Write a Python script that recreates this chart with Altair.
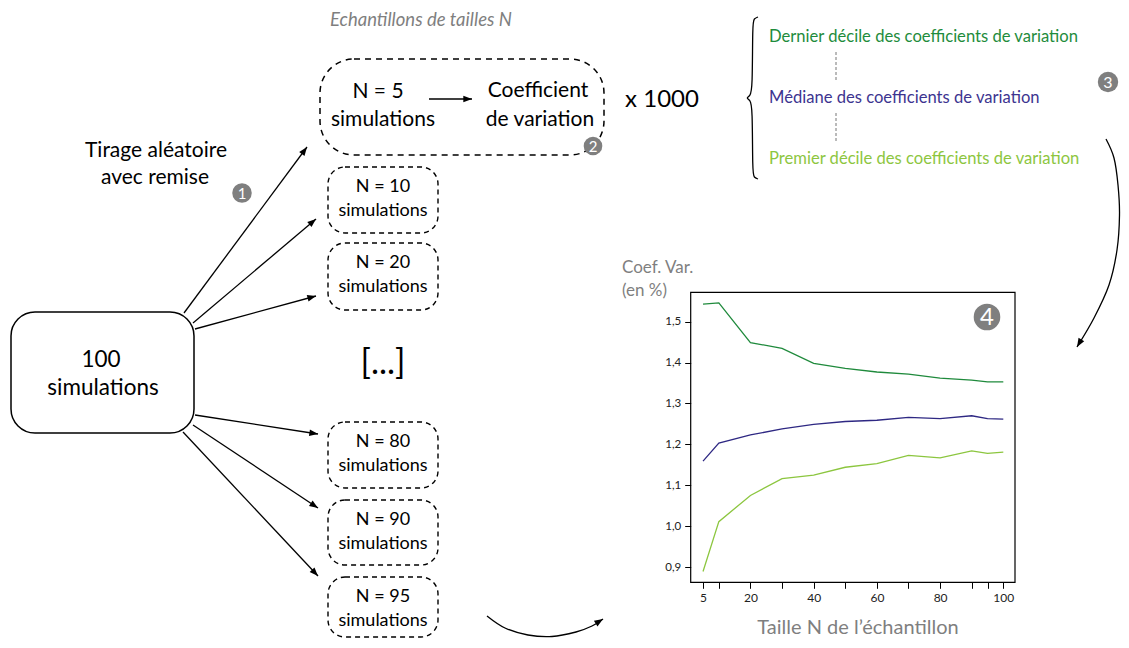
import math
import altair as alt
import pandas as pd

# ---------------- données du graphique ----------------
taille_n = [5, 10, 20, 30, 40, 50, 60, 70, 80, 90, 95, 100]
dernier_decile = [1.543, 1.546, 1.449, 1.435, 1.398, 1.386, 1.377, 1.372, 1.362, 1.357, 1.353, 1.353]
mediane = [1.159, 1.203, 1.223, 1.238, 1.249, 1.256, 1.259, 1.266, 1.263, 1.270, 1.263, 1.262]
premier_decile = [0.889, 1.011, 1.075, 1.116, 1.125, 1.144, 1.153, 1.173, 1.167, 1.184, 1.178, 1.181]
serie_noms = ["Dernier décile", "Médiane", "Premier décile"]
serie_couleurs = ["#1f8a3c", "#2e2883", "#8cc63f"]

x_ticks = [5, 10, 20, 30, 40, 50, 60, 70, 80, 90, 95, 100]
x_labels = [5, 20, 40, 60, 80, 100]
y_ticks = [0.9, 1.0, 1.1, 1.2, 1.3, 1.4, 1.5]

legende_textes = ["Dernier décile des coefficients de variation",
                  "Médiane des coefficients de variation",
                  "Premier décile des coefficients de variation"]
legende_couleurs = ["#1e8c3c", "#3d3490", "#8dc63f"]

boites_n = ["N = 10", "N = 20", "N = 80", "N = 90", "N = 95"]
badges = ["1", "2", "3", "4"]

# ---------------- mise en page (coordonnées de page, px) ----------------
W, H = 1113, 630
FONT = "Lato"
GREY = "#7f7f7f"
PX = alt.Scale(domain=[8, 8 + W], range=[0, W], nice=False, zero=False)
PY = alt.Scale(domain=[8, 8 + H], range=[0, H], nice=False, zero=False)

# cadre du graphique
frame_x0, frame_x1, frame_y0, frame_y1 = 690.7, 1015.0, 292.3, 582.3
x_dom = [1.1, 103.7]
y_dom = [0.8626, 1.572]

boites_y = [(167, 233), (243, 310), (422, 488), (500, 565), (577, 637)]
boites_x = (328, 438)

fleches = [((184, 313), (307, 147)), ((193, 323), (316, 219)), ((195, 329), (316, 296)),
           ((195, 415), (318, 434)), ((193, 425), (318, 508)), ((183, 432), (318, 576)),
           ((429, 99), (472, 99))]

courbe_droite = [(1106, 139), (1114, 158), (1118, 185), (1119.5, 215), (1117, 250),
                 (1109, 285), (1094, 318), (1077, 347)]
courbe_bas = [(487, 616), (505, 628), (528, 635), (552, 636.5), (576, 632), (592, 626), (603, 619)]
accolade = [(758, 17), (754, 18.5), (752.5, 23), (752.5, 90), (750, 96), (746, 98),
            (750, 100), (752.5, 106), (752.5, 173), (754, 177.5), (758, 179)]

ARROW = "M0,0 L-0.38,1 L0.38,1 Z"


def xy():
    return dict(x=alt.X("x:Q", scale=PX, axis=None), y=alt.Y("y:Q", scale=PY, axis=None))


def text_layer(rows, align="center", style="normal"):
    df = pd.DataFrame(rows, columns=["x", "y", "t", "fs", "c"])
    return alt.Chart(df).mark_text(align=align, baseline="middle", font=FONT, fontStyle=style).encode(
        **xy(),
        text="t:N",
        size=alt.Size("fs:Q", scale=None, legend=None),
        color=alt.Color("c:N", scale=None, legend=None),
    )


def angle(p0, p1):
    dx, dy = p1[0] - p0[0], p1[1] - p0[1]
    return math.degrees(math.atan2(dx, -dy)) % 360


def rect_layer(rows, radius, dash=None, width=1.4):
    df = pd.DataFrame(rows, columns=["x", "x2", "y", "y2"])
    kw = dict(fill="white", fillOpacity=0, stroke="black", strokeWidth=width, cornerRadius=radius)
    if dash:
        kw["strokeDash"] = dash
    return alt.Chart(df).mark_rect(**kw).encode(
        x=alt.X("x:Q", scale=PX, axis=None), x2="x2:Q",
        y=alt.Y("y:Q", scale=PY, axis=None), y2="y2:Q")


layers = []

# --- rectangles arrondis ---
layers.append(rect_layer([(11, 194, 312, 433)], 24, None, 1.5))
layers.append(rect_layer([(320, 604, 59, 155)], 34, [6, 5], 1.5))
layers.append(rect_layer([(boites_x[0], boites_x[1], a, b) for a, b in boites_y], 17, [5, 4], 1.4))

# --- flèches droites ---
df_f = pd.DataFrame([(a[0], a[1], b[0], b[1]) for a, b in fleches], columns=["x", "y", "x2", "y2"])
layers.append(alt.Chart(df_f).mark_rule(color="black", strokeWidth=1.3).encode(
    x=alt.X("x:Q", scale=PX, axis=None), x2="x2:Q",
    y=alt.Y("y:Q", scale=PY, axis=None), y2="y2:Q"))

# --- courbes ---
rows = []
for g, pts in enumerate([courbe_droite, courbe_bas]):
    for i, (x, y) in enumerate(pts):
        rows.append((x, y, i, g))
df_c = pd.DataFrame(rows, columns=["x", "y", "i", "g"])
layers.append(alt.Chart(df_c).mark_line(color="black", strokeWidth=1.3, interpolate="cardinal").encode(
    **xy(), order="i:Q", detail="g:N"))

df_acc = pd.DataFrame([(x, y, i) for i, (x, y) in enumerate(accolade)], columns=["x", "y", "i"])
layers.append(alt.Chart(df_acc).mark_line(color="black", strokeWidth=1.3, interpolate="basis").encode(
    **xy(), order="i:Q"))

# --- pointes de flèches ---
heads = [(b[0], b[1], angle(a, b)) for a, b in fleches]
heads.append((courbe_droite[-1][0], courbe_droite[-1][1], angle(courbe_droite[-2], courbe_droite[-1])))
heads.append((courbe_bas[-1][0], courbe_bas[-1][1], angle(courbe_bas[-2], courbe_bas[-1])))
df_h = pd.DataFrame(heads, columns=["x", "y", "a"])
layers.append(alt.Chart(df_h).mark_point(shape=ARROW, filled=True, color="black", opacity=1, size=300,
                                        strokeWidth=0).encode(
    **xy(), angle=alt.Angle("a:Q", scale=None)))

# --- pointillés de la légende ---
df_d = pd.DataFrame([(836, 52, 82), (836, 113, 142)], columns=["x", "y", "y2"])
layers.append(alt.Chart(df_d).mark_rule(color="#777777", strokeWidth=1, strokeDash=[3, 2]).encode(
    x=alt.X("x:Q", scale=PX, axis=None), y=alt.Y("y:Q", scale=PY, axis=None), y2="y2:Q"))

# --- cadre du graphique ---
layers.append(rect_layer([(frame_x0, frame_x1, frame_y0, frame_y1)], 0, None, 1.2))

# --- courbes de données ---
rows = []
for nom, vals in zip(serie_noms, [dernier_decile, mediane, premier_decile]):
    for n, v in zip(taille_n, vals):
        rows.append((n, v, nom))
df_l = pd.DataFrame(rows, columns=["taille", "cv", "serie"])
label_arr = "[" + ",".join(str(v) for v in x_labels) + "]"
line = alt.Chart(df_l).mark_line(strokeWidth=1.3).encode(
    x=alt.X("taille:Q",
            scale=alt.Scale(domain=x_dom, range=[frame_x0 - 8, frame_x1 - 8], nice=False, zero=False),
            axis=alt.Axis(values=x_ticks, orient="bottom", offset=(frame_y1 - 8) - H, domain=False,
                          grid=False, title=None, tickSize=6, tickColor="black", tickWidth=1,
                          labelFont=FONT, labelFontSize=12, labelColor="#222222", labelPadding=4,
                          labelExpr=f"indexof({label_arr}, datum.value) >= 0 ? datum.label : ''")),
    y=alt.Y("cv:Q",
            scale=alt.Scale(domain=y_dom, range=[frame_y1 - 8, frame_y0 - 8], nice=False, zero=False),
            axis=alt.Axis(values=y_ticks, orient="left", offset=-(frame_x0 - 8), domain=False,
                          grid=False, title=None, tickSize=6, tickColor="black", tickWidth=1,
                          labelFont=FONT, labelFontSize=11.5, labelColor="#222222", labelPadding=4,
                          labelExpr="replace(format(datum.value, '.1f'), '.', ',')")),
    color=alt.Color("serie:N", scale=alt.Scale(domain=serie_noms, range=serie_couleurs), legend=None),
)
layers.append(line)

# --- pastilles numérotées ---
badge_pos = [(242, 193, 11), (593, 146, 10.5), (1108, 82, 11.5), (987, 317, 15)]
df_b = pd.DataFrame([(x, y, math.pi * r * r) for x, y, r in badge_pos], columns=["x", "y", "s"])
layers.append(alt.Chart(df_b).mark_circle(color=GREY, opacity=1).encode(
    **xy(), size=alt.Size("s:Q", scale=None, legend=None)))
badge_fs = [15, 15, 16, 24]
layers.append(text_layer([(x, y + 0.5, t, fs, "white") for (x, y, r), t, fs in zip(badge_pos, badges, badge_fs)]))

# --- textes centrés ---
centre = [
    (378, 92, "N = 5", 21, "black"), (383, 120, "simulations", 21, "black"),
    (538, 91, "Coefficient", 21, "black"), (540, 120, "de variation", 21, "black"),
    (662, 100, "x 1000", 24, "black"),
    (156, 151, "Tirage aléatoire", 21, "black"), (155, 178, "avec remise", 21, "black"),
    (101, 360, "100", 22.5, "black"), (103, 388, "simulations", 22.5, "black"),
    (383, 364, "[...]", 34, "black"),
]
for (a, b), lab in zip(boites_y, boites_n):
    centre.append((383, a + 20, lab, 18, "black"))
    centre.append((383, a + 44, "simulations", 18, "black"))
centre.append((858, 628, "Taille N de l’échantillon", 20, GREY))
layers.append(text_layer(centre))

# --- textes alignés à gauche ---
gauche = [(622, 268, "Coef. Var.", 17, GREY), (622, 291, "(en %)", 17, GREY)]
for t, c, y in zip(legende_textes, legende_couleurs, [37, 98, 159]):
    gauche.append((769, y, t, 16.6, c))
layers.append(text_layer(gauche, align="left"))
layers.append(text_layer([(330, 20, "Echantillons de tailles N", 18.5, GREY)], align="left", style="italic"))

chart = alt.layer(*layers).resolve_scale(
    x="independent", y="independent", color="independent", size="independent", angle="independent"
).properties(
    width=W, height=H, padding=0, autosize=alt.AutoSizeParams(type="none"), background="white"
).configure_view(stroke=None)

chart.save("out.html", embed_options={"renderer": "svg", "actions": False})
